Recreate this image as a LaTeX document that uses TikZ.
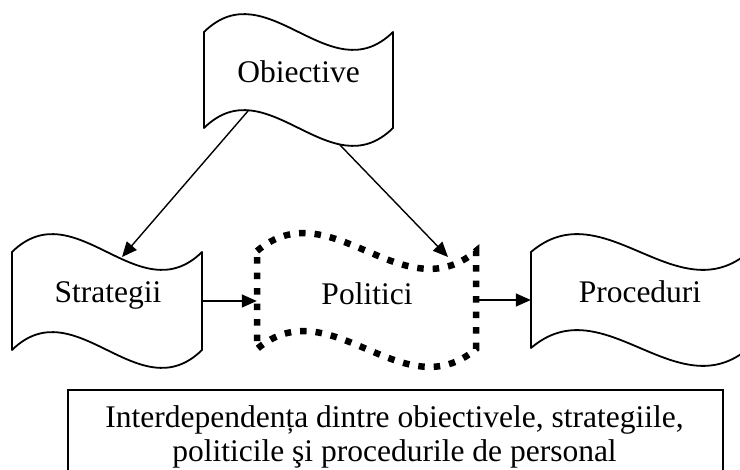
\documentclass[tikz,border=0pt]{standalone}
\usepackage{fontspec}
\setmainfont{Liberation Serif}
\usetikzlibrary{arrows.meta,calc}
\newcommand{\tapedraw}[5]{%
  \draw[#1] (#2,#3) .. controls ({#2+#4/3},{#3-62}) and ({#2+2*#4/3},{#3+62}) .. ({#2+#4},#3)
    -- ({#2+#4},{#3+#5}) .. controls ({#2+2*#4/3},{#3+#5+62}) and ({#2+#4/3},{#3+#5-62}) .. (#2,{#3+#5}) -- cycle;}
\tikzset{
  lbl/.style={font=\fontsize{31.5}{36}\selectfont, anchor=base, inner sep=0pt},
  area/.style={inner sep=0pt, draw=none},
  outline/.style={line width=1.8pt, line join=round},
  dotline/.style={line width=6.5pt, dash pattern=on 6.5pt off 9pt},
  conn/.style={line width=1.4pt, -{Triangle[length=15pt,width=13pt]}},
}
\begin{document}
\begin{tikzpicture}[x=1pt,y=-1pt]
\useasboundingbox (0,0) rectangle (740,470);
\clip (0,0) rectangle (740,470);
% shape areas (for names)
\node[area, minimum width=189pt, minimum height=96pt] (obj) at (298.5,80) {};
\node[area, minimum width=190pt, minimum height=98pt] (str) at (107,301) {};
\node[area, minimum width=219pt, minimum height=98pt] (pol) at (366.5,300) {};
\node[area, minimum width=218pt, minimum height=96pt] (proc) at (640,300) {};
% outlines
\tapedraw{outline}{204}{32}{189}{96}
\tapedraw{outline}{12}{252}{190}{98}
\tapedraw{dotline}{257}{251}{219}{98}
\tapedraw{outline}{531}{252}{218}{96}
% labels
\node[lbl] (objT) at (298.5,83) {Obiective};
\node[lbl] (strT) at (108,303) {Strategii};
\node[lbl] (polT) at (367,305) {Politici};
\node[lbl] (procT) at (640,303) {Proceduri};
% connector end points on the wavy edges
\coordinate (objA) at (248,111);
\coordinate (strA) at (122,257);
\coordinate (objB) at (340,145);
\coordinate (polB) at (448,257);
\draw[conn] (objA) -- (strA);
\draw[conn] (objB) -- (polB);
\draw[conn] (str.east) -- (str.east -| pol.west);
\draw[conn] (pol.east) -- (pol.east -| proc.west);
% caption box
\node[area, draw, line width=1.8pt, anchor=north west, minimum width=655pt, minimum height=100pt] (cap) at (67,389) {};
\node[lbl] (cap1) at (394.5,428) {Interdependența dintre obiectivele, strategiile,};
\node[lbl] (cap2) at (394.5,462) {politicile şi procedurile de personal};
\end{tikzpicture}
\end{document}
